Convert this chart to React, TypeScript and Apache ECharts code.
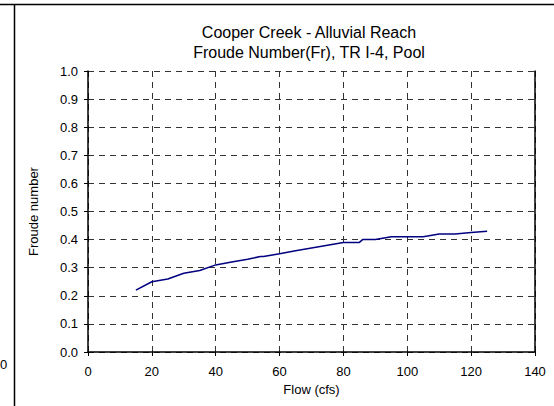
import React, { useEffect, useRef } from "react";
import * as echarts from "echarts";

const titleLines = ["Cooper Creek - Alluvial Reach", "Froude Number(Fr), TR I-4, Pool"];
const flows = [15, 20, 25, 30, 35, 40, 45, 50, 54, 55, 60, 65, 70, 75, 80, 85, 86, 90, 95, 100, 105, 110, 115, 120, 125];
const froude = [0.22, 0.25, 0.26, 0.28, 0.29, 0.31, 0.32, 0.33, 0.34, 0.34, 0.35, 0.36, 0.37, 0.38, 0.39, 0.39, 0.40, 0.40, 0.41, 0.41, 0.41, 0.42, 0.42, 0.425, 0.43];
const xTitle = "Flow (cfs)";
const yTitle = "Froude number";

export default function App() {
  const ref = useRef<HTMLDivElement>(null);
  useEffect(() => {
    if (!ref.current) return;
    const chart = echarts.init(ref.current, null, { renderer: "svg" });
    const font = "'Liberation Sans', Arial, sans-serif";
    const fs = 13;
    chart.setOption({
      animation: false,
      backgroundColor: "#fff",
      textStyle: { fontFamily: font },
      title: {
        text: titleLines.join("\n"),
        left: 304,
        top: 17,
        textAlign: "center",
        textStyle: { fontFamily: font, fontSize: 16, fontWeight: "normal", color: "#000", lineHeight: 20.5 },
      },
      grid: { left: 88, top: 71, right: 19, bottom: 54 },
      xAxis: {
        type: "value",
        min: 0,
        max: 140,
        interval: 20,
        name: xTitle,
        nameLocation: "middle",
        nameGap: 29,
        nameTextStyle: { fontFamily: font, fontSize: fs, color: "#000" },
        axisLine: { show: true, onZero: false, lineStyle: { color: "#000", width: 1.5 } },
        axisTick: { show: true, length: 4, inside: false, lineStyle: { color: "#000" } },
        axisLabel: { fontFamily: font, fontSize: fs, color: "#000", margin: 13 },
        splitLine: { show: true, lineStyle: { color: "#333", type: [6, 5], width: 1 } },
      },
      yAxis: [
        {
          type: "value",
          min: 0,
          max: 1,
          interval: 0.1,
          name: yTitle,
          nameLocation: "middle",
          nameGap: 48,
          nameTextStyle: { fontFamily: font, fontSize: fs, color: "#000" },
          axisLine: { show: true, lineStyle: { color: "#000", width: 1.5 } },
          axisTick: { show: true, length: 4, lineStyle: { color: "#000" } },
          axisLabel: { fontFamily: font, fontSize: fs, color: "#000", margin: 10, formatter: (v: number) => v.toFixed(1) },
          splitLine: { show: true, lineStyle: { color: "#333", type: [6, 5], width: 1 } },
        },
        {
          type: "value",
          min: 0,
          max: 1,
          interval: 0.1,
          position: "right",
          axisLine: { show: true, lineStyle: { color: "#000", width: 1.5 } },
          axisTick: { show: false },
          axisLabel: { show: false },
          splitLine: { show: false },
        },
      ],
      series: [
        {
          type: "line",
          data: flows.map((f, i) => [f, froude[i]]),
          showSymbol: false,
          symbol: "none",
          lineStyle: { color: "#000080", width: 1.5 },
        },
      ],
      graphic: [
        { type: "line", shape: { x1: 0, y1: 4.5, x2: 554, y2: 4.5 }, style: { stroke: "#000", lineWidth: 1.5 } },
        { type: "line", shape: { x1: 14.5, y1: 4, x2: 14.5, y2: 406 }, style: { stroke: "#000", lineWidth: 1.5 } },
        { type: "text", x: 0, y: 364, style: { text: "0", font: `${fs}px ${font}`, fill: "#000", textVerticalAlign: "middle" } },
      ],
    });
    return () => chart.dispose();
  }, []);
  return <div ref={ref} style={{ position: "fixed", left: 0, top: 0, width: 554, height: 406 }} />;
}
